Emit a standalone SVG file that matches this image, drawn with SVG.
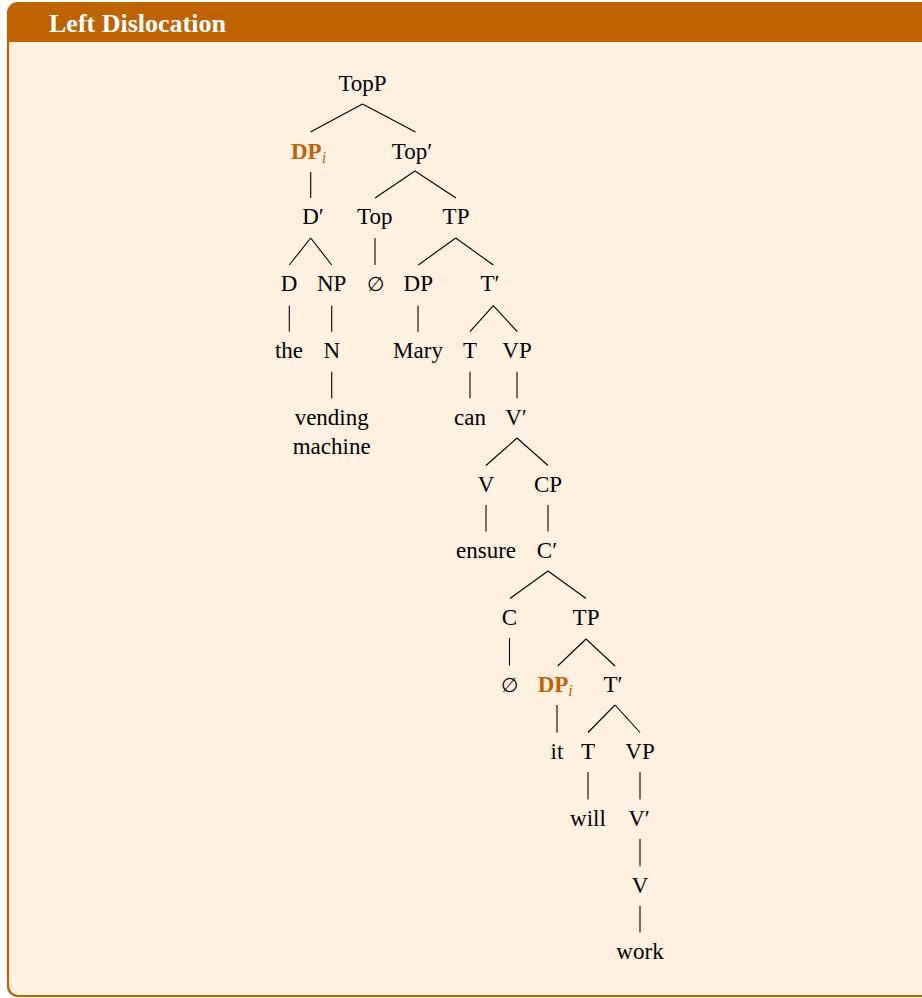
<svg xmlns="http://www.w3.org/2000/svg" width="922" height="998" viewBox="0 0 922 998">
<style>
.t{font-family:"Liberation Serif","DejaVu Serif",serif;font-size:23px;fill:#000;text-anchor:middle}
.s{font-family:"Liberation Serif","DejaVu Serif",serif;font-size:23px;fill:#000;text-anchor:start}
.hl{font-weight:bold;fill:#BF6200}
.sub{font-style:italic;font-weight:normal;font-size:16px;fill:#BF6200}
.e{font-family:"DejaVu Serif","Liberation Serif",serif;font-size:20px;fill:#000;text-anchor:middle}
.title{font-family:"Liberation Serif","DejaVu Serif",serif;font-size:26px;font-weight:bold;fill:#fff}
#edges line{stroke:#000;stroke-width:1.1}
</style>
<rect x="8" y="3" width="930" height="993" rx="10" fill="#FFF1E0"/>
<path d="M8,42 V13 A10,10 0 0 1 18,3 H940 V42 Z" fill="#BF6200"/>
<rect x="8" y="3" width="930" height="993" rx="10" fill="none" stroke="#BF6200" stroke-width="2.2"/>
<text class="title" x="49" y="32">Left Dislocation</text>
<g id="edges">
<line x1="362.5" y1="104" x2="310.5" y2="132"/>
<line x1="362.5" y1="104" x2="415.5" y2="132"/>
<line x1="310.7" y1="172" x2="310.7" y2="198"/>
<line x1="415" y1="171" x2="375" y2="198"/>
<line x1="415" y1="171" x2="456" y2="198"/>
<line x1="310.7" y1="238" x2="289.3" y2="265"/>
<line x1="310.7" y1="238" x2="331.7" y2="265"/>
<line x1="375" y1="238" x2="375" y2="265"/>
<line x1="455.7" y1="238" x2="418.3" y2="265"/>
<line x1="455.7" y1="238" x2="493.3" y2="265"/>
<line x1="289.3" y1="305.7" x2="289.3" y2="331.7"/>
<line x1="331.7" y1="305.7" x2="331.7" y2="331.7"/>
<line x1="418" y1="305.7" x2="418" y2="331.7"/>
<line x1="493.3" y1="305.7" x2="470" y2="331.7"/>
<line x1="493.3" y1="305.7" x2="517.3" y2="331.7"/>
<line x1="331.7" y1="371.7" x2="331.7" y2="398.3"/>
<line x1="470" y1="371.7" x2="470" y2="398.3"/>
<line x1="517" y1="371.7" x2="517" y2="398.3"/>
<line x1="517" y1="438" x2="486" y2="465.5"/>
<line x1="517" y1="438" x2="548" y2="465.5"/>
<line x1="486" y1="505" x2="486" y2="531.5"/>
<line x1="548" y1="505" x2="548" y2="531.5"/>
<line x1="548" y1="571" x2="510" y2="598.5"/>
<line x1="548" y1="571" x2="586" y2="598.5"/>
<line x1="509.5" y1="638" x2="509.5" y2="665.5"/>
<line x1="586" y1="639" x2="557.7" y2="666"/>
<line x1="586" y1="639" x2="615" y2="666"/>
<line x1="557" y1="705" x2="557" y2="732.5"/>
<line x1="615" y1="705" x2="588" y2="732.5"/>
<line x1="615" y1="705" x2="640" y2="732.5"/>
<line x1="588" y1="772" x2="588" y2="799.5"/>
<line x1="640" y1="772" x2="640" y2="799.5"/>
<line x1="640" y1="839" x2="640" y2="866.5"/>
<line x1="640" y1="906" x2="640" y2="932.5"/>
</g>
<g id="n-topp"><text class="t" x="362.5" y="91">TopP</text></g>
<g id="n-dpi1"><text class="s" x="291" y="159"><tspan class="hl">DP</tspan><tspan class="sub" dy="4">i</tspan></text></g>
<g id="n-topbar"><text class="t" x="412" y="159">Top′</text></g>
<g id="n-dbar"><text class="t" x="313" y="224">D′</text></g>
<g id="n-top"><text class="t" x="374.7" y="224">Top</text></g>
<g id="n-tp1"><text class="t" x="456" y="224">TP</text></g>
<g id="n-d"><text class="t" x="289" y="291">D</text></g>
<g id="n-np"><text class="t" x="331.7" y="291">NP</text></g>
<g id="n-null1"><text class="e" x="375" y="291">∅</text></g>
<g id="n-dp"><text class="t" x="418.3" y="291">DP</text></g>
<g id="n-tbar1"><text class="t" x="490" y="291">T′</text></g>
<g id="n-the"><text class="t" x="289" y="358">the</text></g>
<g id="n-n"><text class="t" x="331.7" y="358">N</text></g>
<g id="n-mary"><text class="t" x="418" y="358">Mary</text></g>
<g id="n-t1"><text class="t" x="470" y="358">T</text></g>
<g id="n-vp1"><text class="t" x="517" y="358">VP</text></g>
<g id="n-vm"><text class="t" x="331.7" y="425">vending</text><text class="t" x="331.7" y="454">machine</text></g>
<g id="n-can"><text class="t" x="470" y="425">can</text></g>
<g id="n-vbar1"><text class="t" x="516" y="425">V′</text></g>
<g id="n-v1"><text class="t" x="486" y="492">V</text></g>
<g id="n-cp"><text class="t" x="548" y="492">CP</text></g>
<g id="n-ensure"><text class="t" x="486" y="558">ensure</text></g>
<g id="n-cbar"><text class="t" x="547" y="558">C′</text></g>
<g id="n-c"><text class="t" x="509.5" y="625">C</text></g>
<g id="n-tp2"><text class="t" x="586" y="625">TP</text></g>
<g id="n-null2"><text class="e" x="509.5" y="692">∅</text></g>
<g id="n-dpi2"><text class="s" x="537.7" y="692"><tspan class="hl">DP</tspan><tspan class="sub" dy="4">i</tspan></text></g>
<g id="n-tbar2"><text class="t" x="613" y="692">T′</text></g>
<g id="n-it"><text class="t" x="557" y="759">it</text></g>
<g id="n-t2"><text class="t" x="588" y="759">T</text></g>
<g id="n-vp2"><text class="t" x="640" y="759">VP</text></g>
<g id="n-will"><text class="t" x="588" y="826">will</text></g>
<g id="n-vbar2"><text class="t" x="639" y="826">V′</text></g>
<g id="n-v2"><text class="t" x="640" y="893">V</text></g>
<g id="n-work"><text class="t" x="640" y="959">work</text></g>
</svg>
